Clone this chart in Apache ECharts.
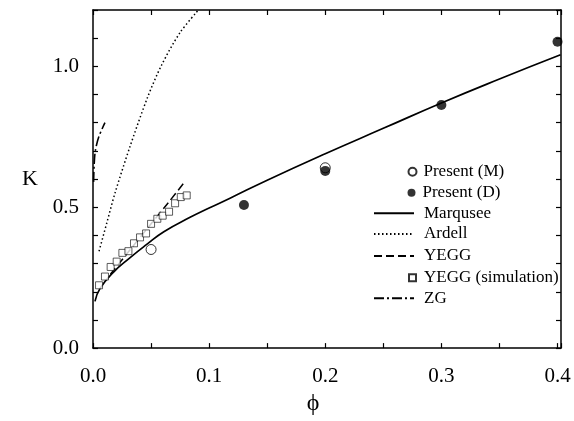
<!DOCTYPE html>
<html>
<head>
<meta charset="utf-8">
<script src="https://cdn.jsdelivr.net/npm/echarts@6/dist/echarts.min.js"></script>
<style>
html,body{margin:0;padding:0;background:#fff;}
#chart{width:574px;height:421px;}
</style>
</head>
<body>
<div id="chart"></div>
<script>
// ---- data ----
const phiM = [0.05, 0.2];
const kM = [0.35, 0.64];

const phiD = [0.13, 0.2, 0.3, 0.4];
const kD = [0.508, 0.629, 0.863, 1.087];

const phiMarqusee = [0.0017, 0.006, 0.0175, 0.032, 0.046, 0.061, 0.0836, 0.1, 0.118, 0.15, 0.2, 0.25, 0.3, 0.35, 0.4026];
const kMarqusee = [0.166, 0.211, 0.269, 0.321, 0.367, 0.413, 0.464, 0.497, 0.532, 0.596, 0.69, 0.78, 0.87, 0.955, 1.041];

const phiArdell = [0.0052, 0.012, 0.019, 0.032, 0.047, 0.059, 0.075, 0.0908];
const kArdell = [0.344, 0.446, 0.551, 0.717, 0.89, 1.004, 1.12, 1.2];

const phiYEGG = [0.015, 0.03, 0.049, 0.065, 0.079];
const kYEGG = [0.262, 0.339, 0.436, 0.517, 0.59];

const phiSim = [0.0052, 0.0103, 0.0152, 0.0204, 0.0253, 0.0305, 0.0353, 0.0405, 0.0457, 0.05, 0.0554, 0.06, 0.0655, 0.0707, 0.0756, 0.0807];
const kSim = [0.223, 0.254, 0.288, 0.307, 0.338, 0.344, 0.372, 0.393, 0.407, 0.441, 0.459, 0.47, 0.484, 0.514, 0.536, 0.542];

const phiZG = [0.0005, 0.001, 0.002, 0.005, 0.0103];
const kZG = [0.59, 0.65, 0.70, 0.75, 0.80];

const xTicks = [0.0, 0.1, 0.2, 0.3, 0.4];
const yTicks = [0.0, 0.5, 1.0];

const names = ['Present (M)', 'Present (D)', 'Marqusee', 'Ardell', 'YEGG', 'YEGG (simulation)', 'ZG'];

// ---- helpers ----
const zip = (a, b) => a.map((v, i) => [v, b[i]]);
const isTick = (list, v) => list.some(t => Math.abs(t - v) < 1e-6);
const FONT = "'Liberation Serif', 'DejaVu Serif', serif";
const BLACK = '#000';

const baseAxisLine = { show: true, onZero: false, lineStyle: { color: BLACK, width: 1.5 } };
const baseTick = { show: true, inside: true, length: 5, lineStyle: { color: BLACK, width: 1.2 } };

const xCommon = { type: 'value', min: 0, max: 0.403, interval: 0.05, splitLine: { show: false }, axisLine: baseAxisLine, axisTick: baseTick };
const yCommon = { type: 'value', min: 0, max: 1.2, interval: 0.1, splitLine: { show: false }, axisLine: baseAxisLine, axisTick: baseTick };

function legendItem(name, isLine, left, top, iconSize, gap) {
  const item = {
    data: [name],
    orient: 'vertical',
    padding: 0,
    left: left,
    top: top,
    selectedMode: false,
    itemWidth: isLine ? 40 : iconSize,
    itemHeight: isLine ? 10 : iconSize,
    textStyle: { fontFamily: FONT, fontSize: 17, color: BLACK, lineHeight: 18, padding: [0, 0, 0, gap] }
  };
  if (isLine) item.itemStyle = { opacity: 0 };
  return item;
}

const option = {
  backgroundColor: '#fff',
  animation: false,
  grid: { left: 93, right: 13, top: 10, bottom: 63, containLabel: false },
  xAxis: [
    Object.assign({}, xCommon, {
      position: 'bottom',
      axisLabel: {
        show: true, margin: 18, fontFamily: FONT, fontSize: 21, color: BLACK,
        formatter: v => isTick(xTicks, v) ? v.toFixed(1) : ''
      },
      name: 'ϕ', nameLocation: 'middle', nameGap: 40,
      nameTextStyle: { fontFamily: FONT, fontSize: 24, color: BLACK, padding: [0, 28, 0, 0] }
    }),
    Object.assign({}, xCommon, { position: 'top', axisLabel: { show: false } })
  ],
  yAxis: [
    Object.assign({}, yCommon, {
      position: 'left',
      axisLabel: {
        show: true, margin: 14, fontFamily: FONT, fontSize: 21, color: BLACK,
        formatter: v => isTick(yTicks, v) ? v.toFixed(1) : ''
      },
      name: 'K', nameLocation: 'middle', nameGap: 55, nameRotate: 0,
      nameTextStyle: { fontFamily: FONT, fontSize: 22, color: BLACK, padding: [0, 0, 0, 0] }
    }),
    Object.assign({}, yCommon, { position: 'right', axisLabel: { show: false } })
  ],
  legend: [
    legendItem(names[0], false, 407.5, 162.7, 8, 2),
    legendItem(names[1], false, 407.5, 183.7, 8, 2),
    legendItem(names[2], true, 373, 204.3, 0, 5),
    legendItem(names[3], true, 373, 225, 0, 5),
    legendItem(names[4], true, 373, 247, 0, 5),
    legendItem(names[5], false, 408, 268.7, 7, 3),
    legendItem(names[6], true, 373, 289.3, 0, 5)
  ],
  series: [
    {
      name: names[0], type: 'scatter', data: zip(phiM, kM), symbol: 'circle', symbolSize: 10, z: 3,
      itemStyle: { color: '#fff', borderColor: BLACK, borderWidth: 1 }
    },
    {
      name: names[1], type: 'scatter', data: zip(phiD, kD), symbol: 'circle', symbolSize: 10, z: 4,
      itemStyle: { color: BLACK, borderColor: BLACK, borderWidth: 0 }
    },
    {
      name: names[2], type: 'line', data: zip(phiMarqusee, kMarqusee), smooth: 0.5, symbol: 'none',
      lineStyle: { color: BLACK, width: 1.7, type: 'solid' }, itemStyle: { color: BLACK }
    },
    {
      name: names[3], type: 'line', data: zip(phiArdell, kArdell), smooth: 0.3, symbol: 'none',
      lineStyle: { color: BLACK, width: 1.5, type: [1.5, 2.5] }, itemStyle: { color: BLACK }
    },
    {
      name: names[4], type: 'line', data: zip(phiYEGG, kYEGG), smooth: 0.3, symbol: 'none',
      lineStyle: { color: BLACK, width: 1.5, type: [8, 4] }, itemStyle: { color: BLACK }
    },
    {
      name: names[5], type: 'scatter', data: zip(phiSim, kSim), symbol: 'rect', symbolSize: 7, z: 3,
      itemStyle: { color: '#fff', borderColor: BLACK, borderWidth: 0.8 }
    },
    {
      name: names[6], type: 'line', data: zip(phiZG, kZG), smooth: 0.3, symbol: 'none',
      lineStyle: { color: BLACK, width: 1.6, type: [10, 3, 2, 3] }, itemStyle: { color: BLACK }
    }
  ]
};

const chart = echarts.init(document.getElementById('chart'), null, { renderer: 'canvas' });
chart.setOption(option);
</script>
</body>
</html>
